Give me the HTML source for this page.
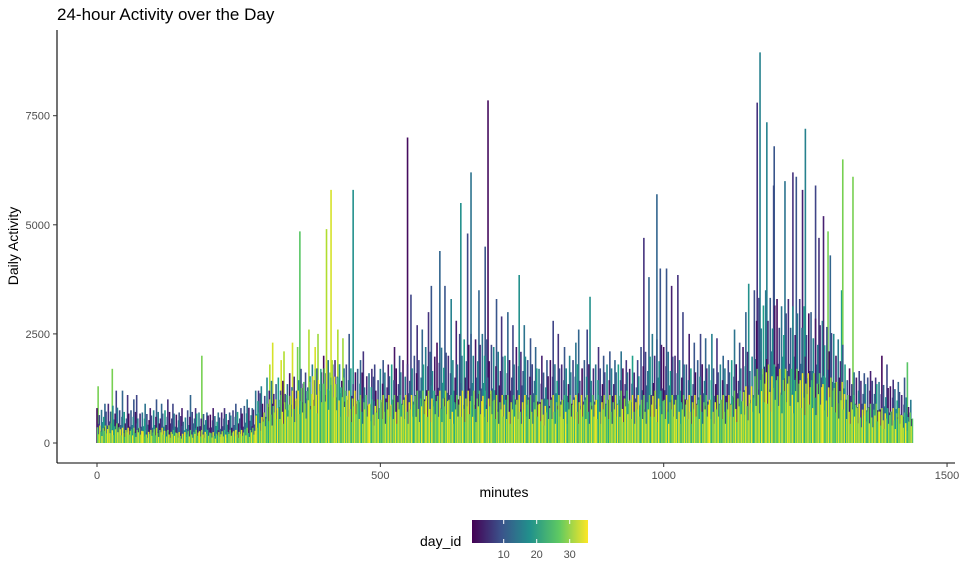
<!DOCTYPE html>
<html><head><meta charset="utf-8">
<style>
body{margin:0;background:#fff;}
svg{display:block;font-family:"Liberation Sans",sans-serif;}
</style></head>
<body>
<svg id="chart" width="960" height="576" viewBox="0 0 960 576">
  <text x="57" y="20" font-size="17" fill="#000">24-hour Activity over the Day</text>
  <g id="marks"></g>
  <line x1="57" y1="30" x2="57" y2="463" stroke="#000" stroke-width="1.1"/>
  <line x1="57" y1="463" x2="955" y2="463" stroke="#000" stroke-width="1.1"/>
  <g id="axes"></g>
  <text x="18" y="246" font-size="14" transform="rotate(-90 18 246)" text-anchor="middle">Daily Activity</text>
  <text x="504" y="497" font-size="14" text-anchor="middle">minutes</text>
  <text x="420" y="546" font-size="14">day_id</text>
  <defs>
    <linearGradient id="vir" x1="0" x2="1" y1="0" y2="0">
      <stop offset="0" stop-color="#440154"/><stop offset="0.25" stop-color="#3b528b"/>
      <stop offset="0.5" stop-color="#21918c"/><stop offset="0.75" stop-color="#5ec962"/>
      <stop offset="1" stop-color="#fde725"/>
    </linearGradient>
  </defs>
  <rect x="472" y="520" width="116" height="23" fill="url(#vir)"/>
  <g id="legend"></g>
</svg>
<script>
const binMinutes = [0,20,40,60,80,100,120,140,160,180,200,220,240,260,280,300,320,340,360,380,400,420,440,460,480,500,520,540,560,580,600,620,640,660,680,700,720,740,760,780,800,820,840,860,880,900,920,940,960,980,1000,1020,1040,1060,1080,1100,1120,1140,1160,1180,1200,1220,1240,1260,1280,1300,1320,1340,1360,1380,1400,1420];
const peakMinutes = [2,27,45,70,85,105,125,150,165,185,205,225,245,265,290,310,330,345,358,390,413,425,452,470,490,505,525,548,565,590,605,625,642,660,690,705,725,745,765,785,805,825,850,870,885,905,925,945,965,988,1005,1025,1045,1065,1085,1105,1125,1150,1170,1182,1195,1228,1250,1268,1282,1290,1316,1345,1365,1385,1405,1430];
const peakValues = [1300,1700,1200,1100,900,1000,1000,800,1100,2000,800,800,900,1000,1300,2300,2100,2300,4850,2500,5800,2600,5800,2100,1800,1900,2200,7000,2700,3600,4400,3300,5500,6200,7850,3300,3000,3850,2400,2000,2800,2200,2600,3350,2200,2100,2100,2000,4700,5700,4000,3850,2500,2500,2500,2000,2600,3650,8950,7350,6800,6200,7200,5900,5200,4850,6500,1650,1650,2000,1450,1850];
const peakDays = [28,28,12,8,14,10,6,4,12,28,4,6,10,14,16,33,31,33,26,30,33,31,18,6,8,10,3,2,6,10,12,16,18,14,2,10,12,18,10,4,8,10,12,18,6,10,14,20,6,12,10,6,4,8,16,12,14,18,16,16,10,6,16,8,4,28,28,8,4,2,6,26];
const secondValues = [900,1200,1100,1000,800,900,900,700,800,700,700,700,800,800,1200,1800,1900,2200,2600,2200,4900,2400,2500,1900,1700,1800,2000,3400,2600,3000,3600,2800,4800,3500,4500,2900,2700,2700,2200,1900,2500,2000,2300,2600,2000,1900,1900,1900,3800,4000,3600,3000,2300,2400,2400,1900,2300,3000,7800,5900,6000,6100,5800,4700,4300,3500,6100,1600,1500,1800,1400,1500];
const secondDays = [12,8,6,10,4,12,8,10,6,12,14,10,8,12,6,31,33,28,31,33,31,30,10,12,6,4,10,8,12,6,10,4,8,12,10,6,8,14,12,10,6,16,14,8,10,12,6,8,12,10,4,8,10,12,6,8,10,12,6,8,14,10,4,6,12,20,28,10,6,8,12,10];
const upperBand = [800,900,750,750,700,750,750,650,750,700,650,700,750,850,1200,1500,1500,1600,1700,1800,2000,1900,1800,1700,1600,1700,1800,1900,2000,2200,2300,2000,2500,2500,2500,2200,2000,2200,1900,1700,1900,1800,1900,1900,1800,1800,1800,1700,2200,2500,2200,2000,1800,1900,1800,1800,1900,2200,3500,3500,3300,3300,3300,3000,2800,2500,1800,1500,1500,1400,1300,1100];
const lowBand = [400,450,350,350,300,350,300,250,300,300,250,300,300,350,700,1000,1100,1200,1400,1700,1900,1500,1200,1100,1000,1100,1100,1100,1200,1200,1200,1100,1200,1200,1200,1100,1100,1100,1100,1000,1100,1100,1100,1100,1100,1100,1200,1100,1100,1200,1100,1100,1100,1100,1100,1100,1200,1300,1700,1800,1700,1700,1600,1600,1500,1400,1100,900,900,800,800,700];
const xTicks = [0,500,1000,1500];
const yTicks = [0,2500,5000,7500];
const legendTicks = [10,20,30];

const NS="http://www.w3.org/2000/svg";
const xs = m => 97 + m*0.5667;
const ys = v => 443 - v*0.04364;
const dayX = d => 474 + (d-1)*3.3;
const stops=[[68,1,84],[72,40,120],[62,74,137],[49,104,142],[38,130,142],[31,158,137],[53,183,121],[109,205,89],[180,222,44],[253,231,37]];
function vir(t){t=Math.max(0,Math.min(1,t));const p=t*(stops.length-1);const i=Math.min(stops.length-2,Math.floor(p));const f=p-i;const a=stops[i],b=stops[i+1];return `rgb(${Math.round(a[0]+(b[0]-a[0])*f)},${Math.round(a[1]+(b[1]-a[1])*f)},${Math.round(a[2]+(b[2]-a[2])*f)})`;}
const dayColor = d => vir((d-1)/34);
const marks=document.getElementById('marks');
function ln(x1,y1,x2,y2,c,w,name){const l=document.createElementNS(NS,'line');l.setAttribute('x1',x1);l.setAttribute('y1',y1);l.setAttribute('x2',x2);l.setAttribute('y2',y2);l.setAttribute('stroke',c);l.setAttribute('stroke-width',w);


return l;}
const darkPattern=[1,0.55,0.8,0.35,0.95,0.6,0.75,0.45,0.9,0.5];
const darkDays=[2,5,8,11,14,17,20,3,9,15];
const lightPattern=[0.9,0.5,1,0.65,0.4,0.85,0.7,1,0.55,0.8];
const lightDays=[26,30,33,24,35,28,22,31,27,34];
// peaks
binMinutes.forEach((m,i)=>{
  const x=xs(peakMinutes[i]);
  marks.appendChild(ln(x,ys(0),x,ys(peakValues[i]),dayColor(peakDays[i]),1.6,'peak-line'));
  const x2=xs(m+ (peakMinutes[i]-m<10?14:5));
  marks.appendChild(ln(x2,ys(0),x2,ys(secondValues[i]),dayColor(secondDays[i]),1.6,'secondary-peak-line'));
});
// dark band
binMinutes.forEach((m,i)=>{
  for(let k=0;k<10;k++){const mm=m+k*2;const x=xs(mm);
    marks.appendChild(ln(x,ys(0),x,ys(upperBand[i]*darkPattern[k]),dayColor(darkDays[(k+i)%10]),1.6,'activity-line'));}
});
// light band
binMinutes.forEach((m,i)=>{
  for(let k=0;k<10;k++){const mm=m+k*2+1;const x=xs(mm);
    marks.appendChild(ln(x,ys(0),x,ys(lowBand[i]*lightPattern[k]),dayColor(lightDays[(k+i)%10]),1.5,'activity-line'));}
});
const axes=document.getElementById('axes');
xTicks.forEach(t=>{const x=xs(t);
  axes.appendChild(ln(x,463,x,467,'#333',1,'x-tick'));
  const tx=document.createElementNS(NS,'text');tx.setAttribute('x',x);tx.setAttribute('y',479);tx.setAttribute('font-size','11');tx.setAttribute('fill','#4d4d4d');tx.setAttribute('text-anchor','middle');tx.textContent=t;
  
  
  axes.appendChild(tx);});
yTicks.forEach(t=>{const y=ys(t);
  axes.appendChild(ln(53,y,57,y,'#333',1,'y-tick'));
  const tx=document.createElementNS(NS,'text');tx.setAttribute('x',50);tx.setAttribute('y',y+4);tx.setAttribute('font-size','11');tx.setAttribute('fill','#4d4d4d');tx.setAttribute('text-anchor','end');tx.textContent=t;
  
  
  axes.appendChild(tx);});
const lg=document.getElementById('legend');
legendTicks.forEach(t=>{const x=dayX(t);
  lg.appendChild(ln(x,520,x,524,'#fff',1,'legend-tick'));
  lg.appendChild(ln(x,539,x,543,'#fff',1,'legend-tick'));
  const tx=document.createElementNS(NS,'text');tx.setAttribute('x',x);tx.setAttribute('y',558);tx.setAttribute('font-size','11');tx.setAttribute('fill','#4d4d4d');tx.setAttribute('text-anchor','middle');tx.textContent=t;
  
  
  lg.appendChild(tx);});
</script>
</body></html>
